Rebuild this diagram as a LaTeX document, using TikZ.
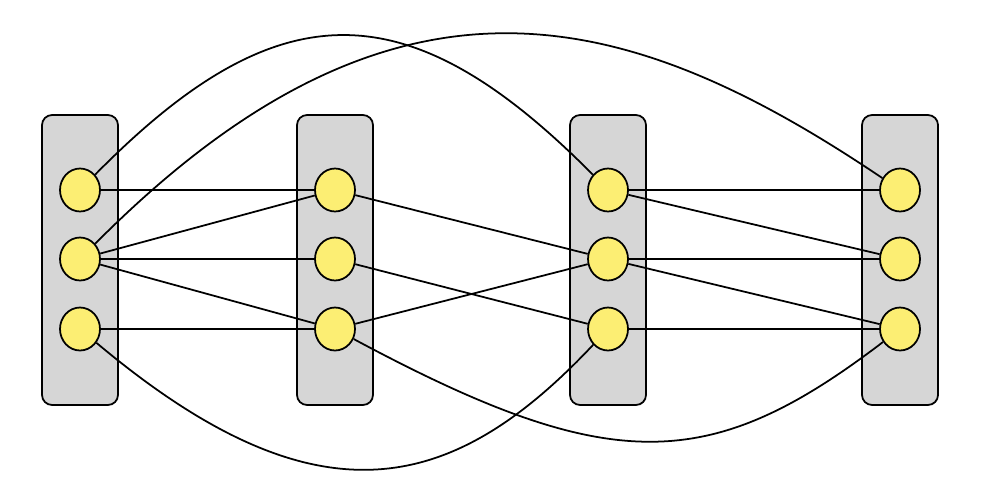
\documentclass[tikz,border=0pt]{standalone}
\usetikzlibrary{shapes.geometric}
\definecolor{boxgray}{HTML}{D6D6D6}
\definecolor{nodeyellow}{HTML}{FCEE73}
\begin{document}
\begin{tikzpicture}[x=0.02cm,y=-0.02cm,
  colbox/.style={draw=black,line width=1pt,fill=boxgray,rounded corners=0.2cm,minimum width=1.52cm,minimum height=5.8cm,inner sep=0pt},
  vert/.style={ellipse,draw=black,line width=1pt,fill=nodeyellow,minimum width=0.8cm,minimum height=0.86cm,inner sep=0pt},
  link/.style={line width=1pt,black}]
\useasboundingbox (0,0) rectangle (982,490);
% boxes
\node[colbox] (BA) at (80,260) {};
\node[colbox] (BB) at (335,260) {};
\node[colbox] (BC) at (608,260) {};
\node[colbox] (BD) at (900,260) {};
% vertices
\foreach \n/\x in {A/80,B/335,C/608,D/900}{
  \node[vert] (\n1) at (\x,190) {};
  \node[vert] (\n2) at (\x,259) {};
  \node[vert] (\n3) at (\x,329) {};
}
% straight links
\draw[link] (A1) -- (B1);
\draw[link] (A2) -- (B1);
\draw[link] (A2) -- (B2);
\draw[link] (A2) -- (B3);
\draw[link] (A3) -- (B3);
\draw[link] (B1) -- (C2);
\draw[link] (B2) -- (C3);
\draw[link] (B3) -- (C2);
\draw[link] (C1) -- (D1);
\draw[link] (C1) -- (D2);
\draw[link] (C2) -- (D2);
\draw[link] (C2) -- (D3);
\draw[link] (C3) -- (D3);
% curved links
\draw[link] (A1) .. controls (277,-10) and (407,-13) .. (C1);
\draw[link] (A2) .. controls (395,-58) and (627,6) .. (D1);
\draw[link] (A3) .. controls (317,528) and (452,495) .. (C3);
\draw[link] (B3) .. controls (611,477) and (710,474) .. (D3);
\end{tikzpicture}
\end{document}
